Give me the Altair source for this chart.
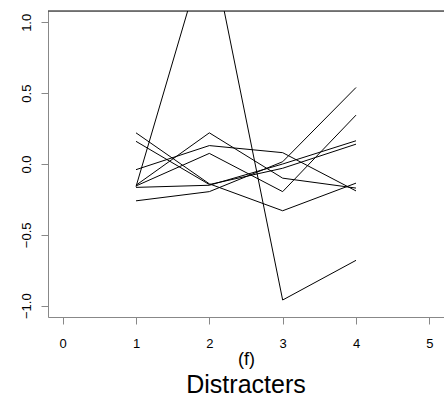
import altair as alt
import pandas as pd

# ---- data ----
distracters = [1, 2, 3, 4]
s1 = [0.22, -0.14, -0.33, -0.135]
s2 = [0.16, -0.145, -0.03, 0.14]
s3 = [-0.04, 0.13, 0.08, -0.19]
s4 = [-0.15, 0.22, -0.10, -0.17]
s5 = [-0.155, 0.075, -0.195, 0.345]
s6 = [-0.16, 1.60, -0.96, -0.68]
s7 = [-0.165, -0.15, 0.0, 0.164]
s8 = [-0.26, -0.195, 0.016, 0.54]

series = {"s1": s1, "s2": s2, "s3": s3, "s4": s4,
          "s5": s5, "s6": s6, "s7": s7, "s8": s8}

x_ticks = [0, 1, 2, 3, 4, 5]
y_ticks = [-1.0, -0.5, 0.0, 0.5, 1.0]

rows = [{"x": x, "y": v, "s": name}
        for name, vals in series.items()
        for x, v in zip(distracters, vals)]
df = pd.DataFrame(rows)

FONT = "Liberation Sans"
W, H = 396, 306

lines = alt.Chart(df).mark_line(color="black", strokeWidth=1, clip=True).encode(
    x=alt.X("x:Q",
            scale=alt.Scale(domain=[-0.2, 5.2], nice=False, zero=False),
            axis=alt.Axis(values=x_ticks, format="d", title="(f)", grid=False,
                          tickSize=7, labelPadding=13, labelFontSize=13,
                          titleY=47, titleBaseline="alphabetic",
                          titleFontSize=18, titleFontWeight="normal",
                          titleFont=FONT, titleColor="black")),
    y=alt.Y("y:Q",
            scale=alt.Scale(domain=[-1.08, 1.08], nice=False, zero=False),
            axis=alt.Axis(values=y_ticks, format=".1f", title=None, grid=False,
                          tickSize=7, labelAngle=-90, labelAlign="center",
                          labelFontSize=13,
                          labelBaseline="alphabetic", labelPadding=11)),
    detail="s:N",
    order="x:Q",
)

top_border = alt.Chart(pd.DataFrame({"k": [0]})).mark_rule(
    color="black", strokeWidth=1
).encode(x=alt.value(0), x2=alt.value(W), y=alt.value(0))

chart = alt.layer(lines, top_border).properties(
    width=W, height=H,
    title=alt.TitleParams("Distracters", orient="bottom", anchor="middle",
                          frame="group", fontSize=25, font=FONT,
                          fontWeight="normal", color="black", offset=5),
    autosize=alt.AutoSizeParams(type="none"),
    padding={"left": 48, "top": 11, "right": 0, "bottom": 87},
).configure_view(stroke=None).configure_axis(
    labelFont=FONT, labelColor="black",
    titleFont=FONT, titleFontWeight="normal", titleColor="black",
    domainColor="black", domainWidth=1, tickColor="black", tickWidth=1,
).configure(background="white")

chart.save("out.html", embed_options={"renderer": "svg", "actions": False})
